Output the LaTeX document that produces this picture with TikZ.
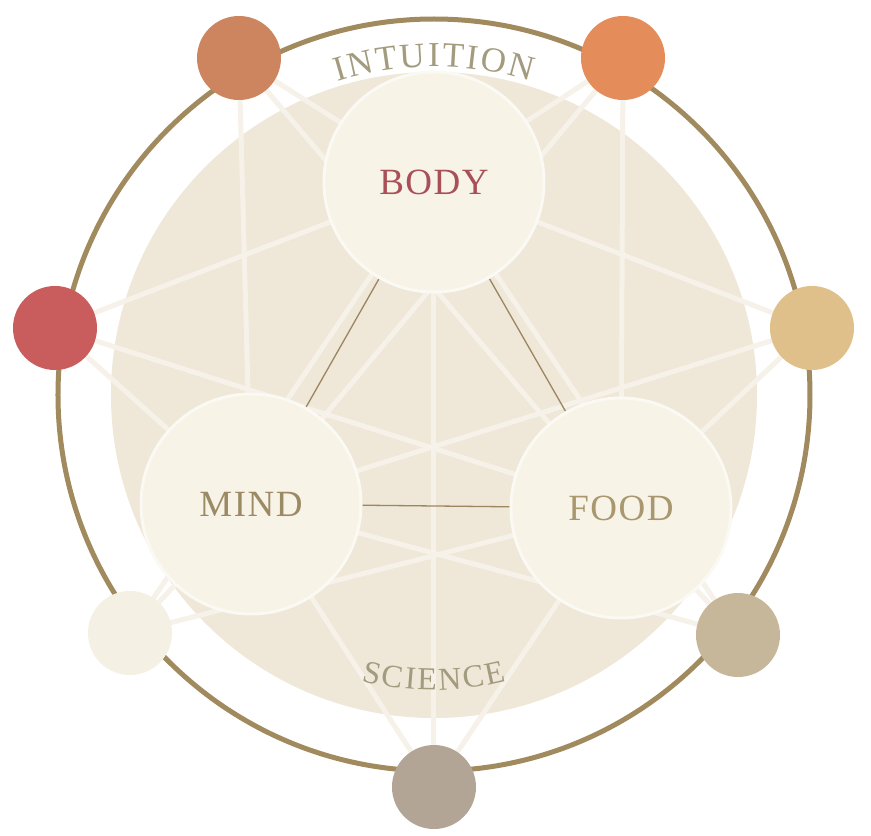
\documentclass[tikz,border=0pt]{standalone}
\usepackage{fontspec}
\setmainfont{Liberation Serif}
\usetikzlibrary{backgrounds,decorations.text}

\begin{document}
\begin{tikzpicture}[
    x=1pt, y=1pt,
    line join=round,
    line cap=round,
    bigcircle/.style={circle, minimum size=220pt, inner sep=0pt,
        fill=paleivory, draw=creamwhite, line width=3pt,
        font=\fontsize{37}{40}\selectfont\addfontfeature{LetterSpace=4}},
    smalldot/.style={circle, minimum size=84pt, inner sep=0pt},
    spoke/.style={line width=5pt, draw=spokewhite},
    triline/.style={line width=1.3pt, draw=linkbrown},
    ring/.style={line width=5pt, draw=ringbrown},
    arcword/.style 2 args={
        decorate,
        decoration={
            text effects along path,
            text={#1},
            text align=center,
            text effects/.cd,
            text along path,
            characters={font=\fontsize{#2}{#2}\selectfont, text=wordgray},
            character widths={font=\fontsize{#2}{#2}\selectfont, inner xsep=1.1pt}
        }
    }
]

% -------------------------------------------------
% Palette
% -------------------------------------------------
\definecolor{ringbrown}{HTML}{A08A5E}   % outer ring
\definecolor{sand}{HTML}{EFE7D7}        % inner disk
\definecolor{paleivory}{HTML}{F7F3E7}   % big circles
\definecolor{creamwhite}{HTML}{FBF9F3}  % big circle rims
\definecolor{spokewhite}{HTML}{F6F2E9}  % spokes
\definecolor{linkbrown}{HTML}{9C8660}   % triangle
\definecolor{wordgray}{HTML}{A39B7E}    % curved words
\definecolor{bodyred}{HTML}{A84F58}
\definecolor{mindbrown}{HTML}{9C8A64}
\definecolor{foodbrown}{HTML}{A8976F}
\definecolor{dotclay}{HTML}{CD855F}
\definecolor{dotorange}{HTML}{E48D5A}
\definecolor{dotred}{HTML}{C95D5E}
\definecolor{dotsand}{HTML}{E0C08A}
\definecolor{dotcream}{HTML}{F4F0E3}
\definecolor{dotkhaki}{HTML}{C7B79A}
\definecolor{dottaupe}{HTML}{B3A595}

\useasboundingbox (-434,-441) rectangle (437,395);

% -------------------------------------------------
% Big circles
% -------------------------------------------------
\node[bigcircle, text=bodyred]   (body) at (0,213)     {BODY};
\node[bigcircle, text=mindbrown] (mind) at (-183,-109) {MIND};
\node[bigcircle, text=foodbrown] (food) at (187,-113)  {FOOD};

% -------------------------------------------------
% Small circles on the ring
% -------------------------------------------------
\node[smalldot, fill=dotclay]   (tl) at (-195,337)  {};
\node[smalldot, fill=dotorange] (tr) at (189,337)   {};
\node[smalldot, fill=dotred]    (lf) at (-379,67)   {};
\node[smalldot, fill=dotsand]   (rt) at (378,67)    {};
\node[smalldot, fill=dotcream]  (bl) at (-304,-238) {};
\node[smalldot, fill=dotkhaki]  (br) at (304,-240)  {};
\node[smalldot, fill=dottaupe]  (bt) at (0,-392)    {};

% -------------------------------------------------
% Curved words
% -------------------------------------------------
\path[arcword={INTUITION}{35}] (160:328) arc[start angle=160, end angle=20, radius=328];
\path[arcword={SCIENCE}{32}]   (200:295) arc[start angle=200, end angle=340, radius=295];

% -------------------------------------------------
% Ring, disk and spokes
% -------------------------------------------------
\begin{scope}[on background layer]
    \fill[white] (-434,-441) rectangle (437,395);
    \draw[ring] (0,0) circle[radius=376];
    \fill[sand] (0,0) circle[radius=323];

    \foreach \s in {tl,tr,lf,rt,bl,br,bt} {
        \foreach \b in {body,mind,food} {
            \draw[spoke] (\s.center) -- (\b.center);
        }
    }

    \draw[triline] (body) -- (mind);
    \draw[triline] (body) -- (food);
    \draw[triline] (mind) -- (food);
\end{scope}

\end{tikzpicture}
\end{document}
